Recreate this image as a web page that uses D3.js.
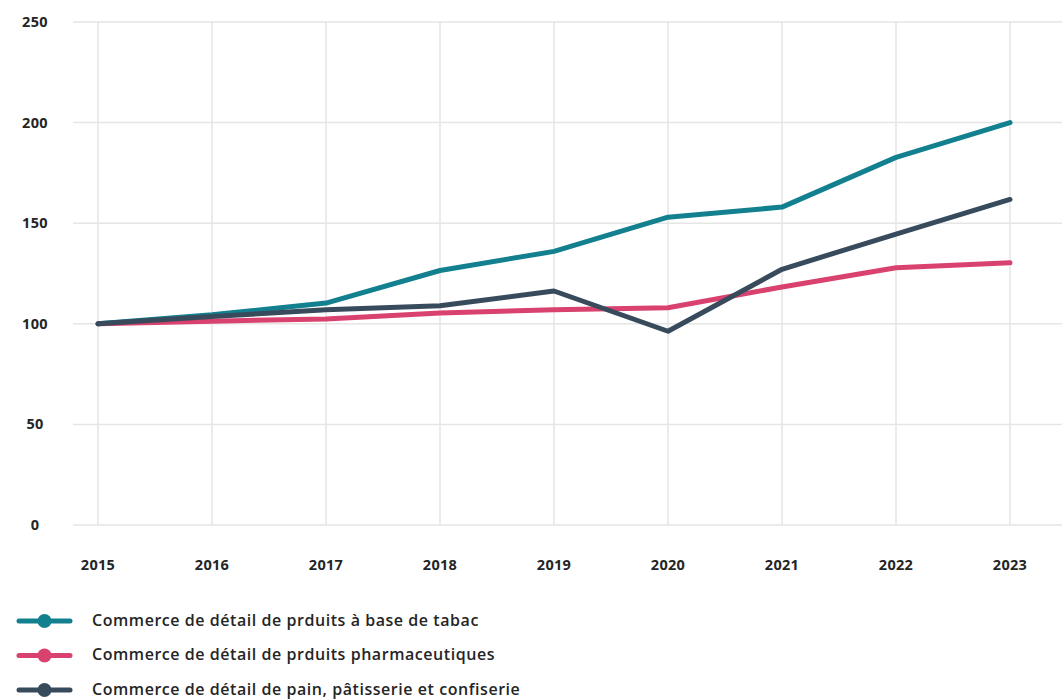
<!DOCTYPE html>
<html>
<head>
<meta charset="utf-8">
<script src="https://cdn.jsdelivr.net/npm/d3@7"></script>
<style>
  html, body { margin: 0; padding: 0; background: #fff; }
  svg { display: block; font-family: "Open Sans", sans-serif; }
</style>
</head>
<body>
<svg id="chart" width="1062" height="700"></svg>
<script>
// Retail trade indices (base 100 in 2015)
const years = [2015, 2016, 2017, 2018, 2019, 2020, 2021, 2022, 2023];
const tabac = [100, 104.5, 110.3, 126.5, 136, 153, 158, 182.7, 200];
const pharma = [100, 101.3, 102.4, 105.4, 107, 108, 118.3, 127.9, 130.3];
const pain = [100, 103.6, 107, 109, 116.3, 96.3, 127.1, 144.6, 161.8];
const seriesNames = [
  "Commerce de détail de prduits à base de tabac",
  "Commerce de détail de prduits pharmaceutiques",
  "Commerce de détail de pain, pâtisserie et confiserie"
];
const seriesColors = ["#12808f", "#d9416f", "#384b5c"];
const yTicks = [0, 50, 100, 150, 200, 250];

const series = [tabac, pharma, pain].map((vals, i) => ({
  name: seriesNames[i], color: seriesColors[i],
  points: years.map((y, j) => ({ year: y, value: vals[j] }))
}));

const svg = d3.select("#chart");
const plot = { left: 73, right: 1062, top: 22, bottom: 525 };

const x = d3.scalePoint().domain(years).range([98, 1010]);
const y = d3.scaleLinear().domain([0, 250]).range([plot.bottom, plot.top]);

// horizontal grid
svg.append("g").selectAll("line").data(yTicks).join("line")
  .attr("x1", plot.left).attr("x2", plot.right)
  .attr("y1", d => y(d)).attr("y2", d => y(d))
  .attr("stroke", "#e5e5e5").attr("stroke-width", 1.5);

// vertical grid
svg.append("g").selectAll("line").data(years).join("line")
  .attr("x1", d => x(d)).attr("x2", d => x(d))
  .attr("y1", plot.top).attr("y2", plot.bottom)
  .attr("stroke", "#e5e5e5").attr("stroke-width", 1.5);

// y axis labels
svg.append("g").selectAll("text").data(yTicks).join("text")
  .attr("x", 35).attr("y", d => y(d)).attr("dy", "0.35em")
  .attr("text-anchor", "middle")
  .attr("font-size", 14.5).attr("font-weight", 700).attr("fill", "#252525")
  .attr("letter-spacing", 0.3)
  .text(d => d);

// x axis labels
svg.append("g").selectAll("text").data(years).join("text")
  .attr("x", d => x(d)).attr("y", 565).attr("dy", "0.35em")
  .attr("text-anchor", "middle")
  .attr("font-size", 14.5).attr("font-weight", 700).attr("fill", "#252525")
  .attr("letter-spacing", 0.3)
  .text(d => d);

// lines
const line = d3.line().x(d => x(d.year)).y(d => y(d.value));
svg.append("g").selectAll("path").data(series).join("path")
  .attr("d", d => line(d.points))
  .attr("fill", "none")
  .attr("stroke", d => d.color)
  .attr("stroke-width", 5)
  .attr("stroke-linecap", "round")
  .attr("stroke-linejoin", "round");

// legend
const legend = svg.append("g").selectAll("g").data(series).join("g")
  .attr("transform", (d, i) => `translate(0, ${621 + i * 34.5})`);
legend.append("line")
  .attr("x1", 19).attr("x2", 70).attr("y1", 0).attr("y2", 0)
  .attr("stroke", d => d.color).attr("stroke-width", 5)
  .attr("stroke-linecap", "round");
legend.append("circle")
  .attr("cx", 44.5).attr("cy", 0).attr("r", 7)
  .attr("fill", d => d.color);
legend.append("text")
  .attr("x", 92).attr("y", -1).attr("dy", "0.35em")
  .attr("font-size", 16).attr("font-weight", 600).attr("fill", "#252525")
  .attr("letter-spacing", 0.55)
  .text(d => d.name);
</script>
</body>
</html>
